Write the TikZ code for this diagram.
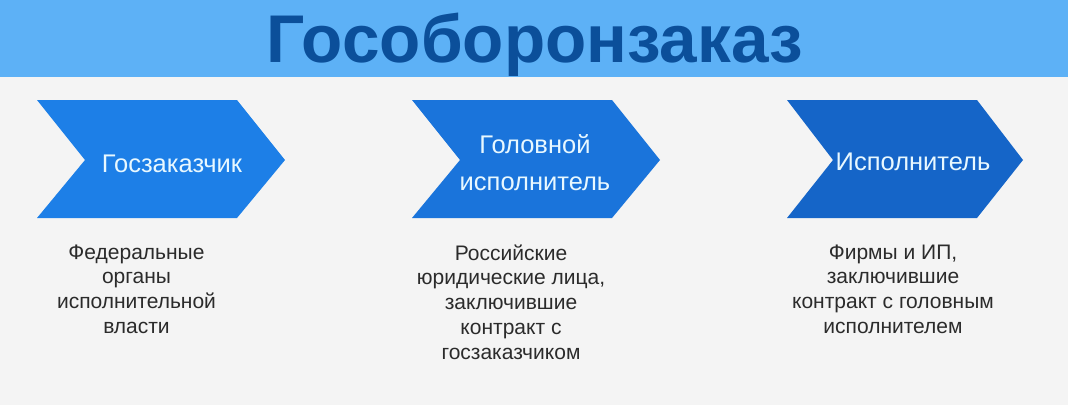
\documentclass[tikz,border=0pt]{standalone}
\usepackage{fontspec}
\setmainfont{Liberation Sans}
\definecolor{bgc}{HTML}{F4F4F4}
\definecolor{band}{HTML}{5DB1F6}
\definecolor{titlec}{HTML}{0B4F9A}
\definecolor{chevA}{HTML}{1D7FE7}
\definecolor{chevB}{HTML}{1A74DB}
\definecolor{chevC}{HTML}{1565C8}
\definecolor{chevtext}{HTML}{E8F8FF}
\definecolor{desc}{HTML}{2B2B2B}
\begin{document}
\begin{tikzpicture}[x=1pt,y=1pt,
  chevtxt/.style={text=chevtext,font=\fontsize{25.5}{28}\selectfont,anchor=base,inner sep=0pt},
  desctxt/.style={text=desc,font=\fontsize{21}{24.7}\selectfont,align=center,anchor=north,inner sep=0pt}]
\useasboundingbox (0,0) rectangle (1068,-405);
\fill[bgc] (0,0) rectangle (1068,-405);
\fill[band] (0,0) rectangle (1068,-77);
\node[text=titlec,font=\bfseries\fontsize{67.5}{80}\selectfont,anchor=base,inner sep=0pt] (title) at (535,-62) {Гособоронзаказ};
% chevrons
\fill[chevA] (37,-100) -- (237,-100) -- (285,-160) -- (237,-218) -- (37,-218) -- (85,-160) -- cycle;
\fill[chevB] (412,-100) -- (612,-100) -- (660,-160) -- (612,-218) -- (412,-218) -- (460,-160) -- cycle;
\fill[chevC] (787,-100) -- (977,-100) -- (1023,-160) -- (977,-218) -- (787,-218) -- (833,-160) -- cycle;
\node[chevtxt] (c1) at (172,-172) {Госзаказчик};
\node[chevtxt] (c2a) at (535,-153) {Головной};
\node[chevtxt] (c2b) at (535,-190) {исполнитель};
\node[chevtxt] (c3) at (913,-170) {Исполнитель};
% descriptions
\node[desctxt] (d1) at (136.5,-244.5) {Федеральные\\органы\\исполнительной\\власти};
\node[desctxt] (d2) at (511,-244.5) {Российские\\юридические лица,\\заключившие\\контракт с\\госзаказчиком};
\node[desctxt] (d3) at (893,-244.5) {Фирмы и ИП,\\заключившие\\контракт с головным\\исполнителем};
\end{tikzpicture}
\end{document}
